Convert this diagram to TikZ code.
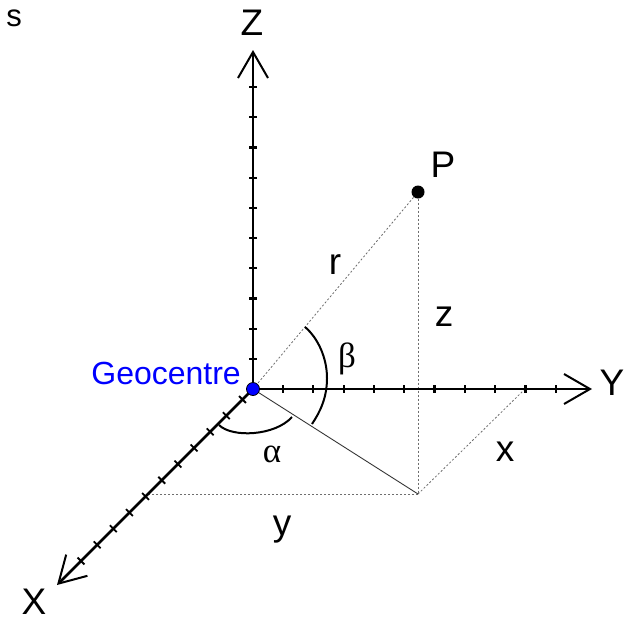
\documentclass[tikz,border=0pt]{standalone}
\usepackage{fontspec}
\setmainfont{Liberation Sans}
\newfontfamily\greekfont{Liberation Serif}
\usetikzlibrary{arrows.meta}
\definecolor{geoblue}{RGB}{0,0,255}
\definecolor{guidegray}{RGB}{110,110,110}
\definecolor{raygray}{RGB}{55,55,55}

\begin{document}
\begin{tikzpicture}[x=1pt, y=-1pt, axis/.style={draw=black, line width=2.6pt, -{Straight Barb[length=26pt, width=30pt, line width=2pt]}}, tick/.style={draw=black, line width=2.2pt}, guide/.style={draw=guidegray, line width=0.8pt, dash pattern=on 2pt off 2pt}, angle/.style={draw=black, line width=2pt}, axlabel/.style={inner sep=0pt, font=\fontsize{37}{42}\selectfont}, greek/.style={inner sep=0pt, font=\fontsize{35}{40}\selectfont\greekfont}]
\useasboundingbox (0,0) rectangle (631,622);
\coordinate (O) at (253,389);
\coordinate (F) at (418,494);
\coordinate (Yx) at (525,389);
\coordinate (Xy) at (148,494);
\coordinate (Zend) at (253,50);
\coordinate (Yend) at (592,389);
\coordinate (Xend) at (57,585);
\node[circle, fill=black, inner sep=0pt, minimum size=13pt] (P) at (418,192) {};
% projections of P
\draw[guide] (O) -- (P);
\draw[guide] (P) -- (F);
\draw[guide] (F) -- (Yx);
\draw[guide] (F) -- (Xy);
\draw[draw=raygray, line width=0.9pt] (O) -- (F);
% axes with ticks
\draw[axis] (O) -- (Zend);
\draw[axis] (O) -- (Yend);
\draw[axis] (O) -- (Xend);
\foreach \k in {0,...,9} {
  \draw[tick] (249,{87+30.2*\k}) -- (257,{87+30.2*\k});
  \draw[tick] ({283+30.3*\k},385) -- ({283+30.3*\k},393);
}
\foreach \k in {0,...,10} {
  \draw[tick, line width=1.8pt] ({253-10.5-16.15*\k-3.4},{389+10.5+16.15*\k-3.4}) -- ({253-10.5-16.15*\k+3.4},{389+10.5+16.15*\k+3.4});
}
% angles
\draw[angle] (305,327) .. controls (318,338) and (327,358) .. (327,378) .. controls (327,398) and (320,412) .. (312,424);
\draw[angle] (219,425) .. controls (232,438) and (275,436) .. (292,417);
\node[circle, fill=geoblue, draw=black, line width=0.8pt, inner sep=0pt, minimum size=13pt] (geo) at (O) {};
% labels
\node[inner sep=0pt, anchor=east, text=geoblue, font=\fontsize{32}{36}\selectfont] (geolabel) at (241,373) {Geocentre};
\node[axlabel] (zlab) at (252,23) {Z};
\node[axlabel] (ylab) at (612,383) {Y};
\node[axlabel] (xlab) at (34,602) {X};
\node[axlabel] (plab) at (443,165) {P};
\node[axlabel] (rlab) at (335,265) {r};
\node[axlabel] (zval) at (444,317) {z};
\node[axlabel] (xval) at (505,452) {x};
\node[axlabel] (yval) at (282,530) {y};
\node[greek] (beta) at (347,359) {β};
\node[greek] (alpha) at (272,454) {α};
\node[inner sep=0pt, font=\fontsize{31}{35}\selectfont] (cut) at (14,18) {s};
\end{tikzpicture}
\end{document}
